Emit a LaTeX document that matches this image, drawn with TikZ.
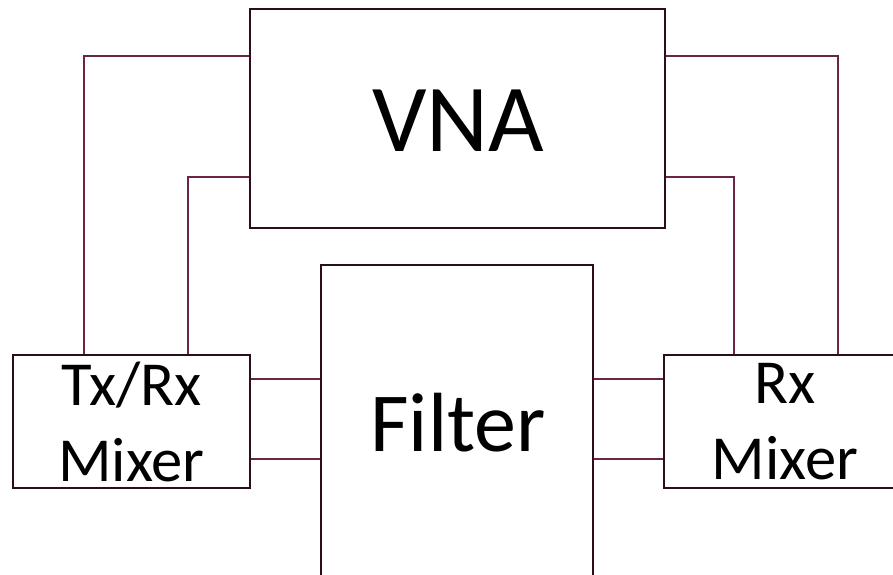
\documentclass[tikz,border=0pt]{standalone}
\usepackage{fontspec}
\setmainfont{Carlito}
\definecolor{boxc}{HTML}{2B0D1E}
\definecolor{connc}{HTML}{6B2444}
\tikzset{
  blk/.style={draw=boxc, line width=2pt, fill=white, rectangle, inner sep=0pt, align=center},
  conn/.style={draw=connc, line width=1.9pt},
}
\begin{document}
\begin{tikzpicture}[x=0.75pt,y=-0.75pt]
\useasboundingbox (0,0) rectangle (893,575);
\clip (0,0) rectangle (893,575);
\coordinate (lo) at (84,56);
\coordinate (li) at (188,177);
\coordinate (ro) at (838,56);
\coordinate (ri) at (734,177);
\coordinate (ha) at (0,379);
\coordinate (hb) at (0,459);
\node[blk, minimum width=311.25pt, minimum height=164.25pt] (VNA) at (457.5,118.5) {};
\node[font=\fontsize{72}{80}\selectfont] (VNAText) at (458,121) {VNA};
\node[blk, minimum width=177.75pt, minimum height=99.75pt, font=\fontsize{47}{57}\selectfont] (TxRx) at (131.5,421.5) {Tx/Rx\\Mixer};
\node[blk, minimum width=204pt, minimum height=251.25pt] (Filter) at (457,432.5) {};
\node[font=\fontsize{63}{70}\selectfont] (FilterText) at (458,423) {Filter};
\node[blk, minimum width=181.5pt, minimum height=99.75pt, font=\fontsize{47}{57}\selectfont] (Rx) at (785,421.5) {Rx\\Mixer};
\draw[conn] (VNA.west |- lo) -| (TxRx.north -| lo);
\draw[conn] (VNA.west |- li) -| (TxRx.north -| li);
\draw[conn] (VNA.east |- ro) -| (Rx.north -| ro);
\draw[conn] (VNA.east |- ri) -| (Rx.north -| ri);
\draw[conn] (TxRx.east |- ha) -- (Filter.west |- ha);
\draw[conn] (TxRx.east |- hb) -- (Filter.west |- hb);
\draw[conn] (Filter.east |- ha) -- (Rx.west |- ha);
\draw[conn] (Filter.east |- hb) -- (Rx.west |- hb);
\end{tikzpicture}
\end{document}
